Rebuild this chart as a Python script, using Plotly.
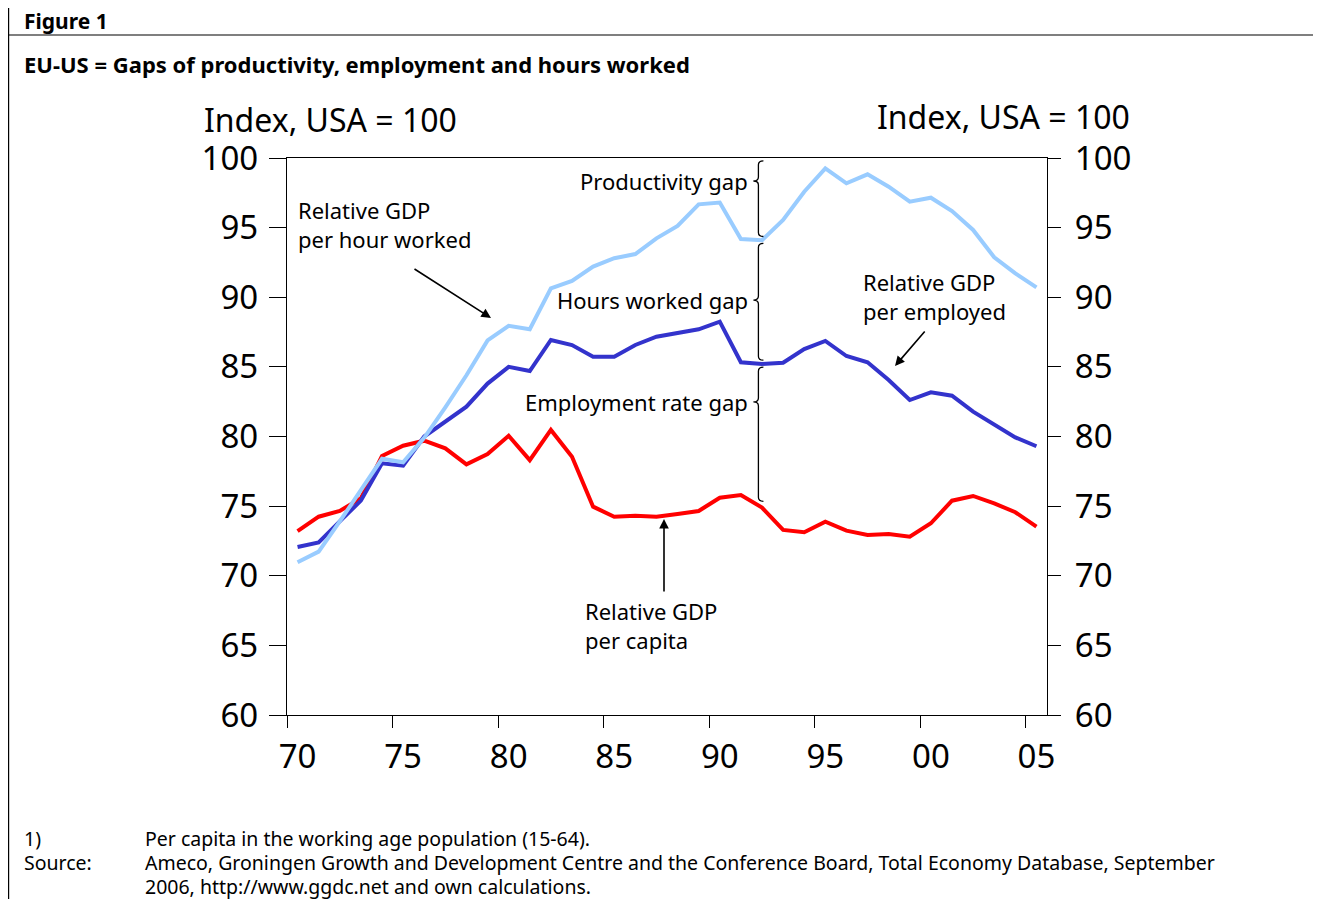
import plotly.graph_objects as go

years = list(range(1970, 2006))
year_labels = ["70", "75", "80", "85", "90", "95", "00", "05"]
label_years = [1970, 1975, 1980, 1985, 1990, 1995, 2000, 2005]

gdp_per_hour = [70.97, 71.73, 73.9, 76.1, 78.4, 78.15, 79.9, 82.1, 84.4, 86.9,
                87.95, 87.7, 90.64, 91.17, 92.2, 92.8, 93.1, 94.23, 95.12, 96.67,
                96.8, 94.18, 94.1, 95.55, 97.58, 99.26, 98.18, 98.83, 97.94, 96.86,
                97.15, 96.19, 94.83, 92.87, 91.72, 90.71]
gdp_per_employed = [72.07, 72.4, 73.9, 75.4, 78.07, 77.9, 80.0, 81.1, 82.14, 83.8,
                    85.0, 84.7, 86.93, 86.57, 85.73, 85.73, 86.57, 87.17, 87.46, 87.7,
                    88.25, 85.33, 85.21, 85.3, 86.28, 86.86, 85.78, 85.33, 84.06, 82.62,
                    83.17, 82.93, 81.78, 80.9, 79.94, 79.3]
gdp_per_capita = [73.2, 74.24, 74.65, 75.56, 78.6, 79.34, 79.7, 79.15, 78.0, 78.74,
                  80.05, 78.3, 80.47, 78.55, 74.96, 74.24, 74.31, 74.24, 74.43, 74.65,
                  75.6, 75.8, 74.89, 73.29, 73.12, 73.88, 73.24, 72.93, 73.0, 72.8,
                  73.77, 75.39, 75.73, 75.2, 74.56, 73.53]

y_ticks = [60, 65, 70, 75, 80, 85, 90, 95, 100]

# page geometry (the page body has an 8px margin)
OFF = 8
W, H = 1321, 899
L, R, T, B = 287, 1047, 158, 715
FONT = "Noto Sans"

def px(x):
    return (x - L) / (R - L)

def py(y):
    return (B - y) / (B - T)

fig = go.Figure()
fig.add_trace(go.Scatter(x=years, y=gdp_per_capita, mode="lines",
                         line=dict(color="#FF0000", width=4), hoverinfo="skip"))
fig.add_trace(go.Scatter(x=years, y=gdp_per_employed, mode="lines",
                         line=dict(color="#3333CC", width=4), hoverinfo="skip"))
fig.add_trace(go.Scatter(x=years, y=gdp_per_hour, mode="lines",
                         line=dict(color="#99CCFF", width=4), hoverinfo="skip"))
# helper trace to carry the secondary axes
fig.add_trace(go.Scatter(x=[None], y=[None], xaxis="x2", yaxis="y2", mode="lines",
                         hoverinfo="skip"))

xr = [1969.5, 2005.5]
yr = [60, 100]

fig.update_layout(
    width=W - OFF, height=H - OFF,
    margin=dict(l=L - OFF, r=W - R, t=T - OFF, b=H - B, pad=0),
    paper_bgcolor="white", plot_bgcolor="white",
    showlegend=False,
    font=dict(family=FONT, color="black"),
    xaxis=dict(range=xr, tickmode="array", tickvals=[v - 0.5 for v in label_years],
               ticktext=[""] * len(label_years), ticks="outside", ticklen=12,
               tickwidth=1.3, tickcolor="black", showline=True, linecolor="black",
               linewidth=1.3, mirror=True, showgrid=False, zeroline=False),
    xaxis2=dict(range=xr, overlaying="x", anchor="y2", side="bottom", tickmode="array",
                tickvals=label_years, ticktext=year_labels, ticks="outside",
                ticklen=12, tickcolor="rgba(0,0,0,0)", showline=False, showgrid=False,
                zeroline=False, tickfont=dict(size=33, family=FONT, color="black")),
    yaxis=dict(range=yr, tickmode="array", tickvals=y_ticks, ticks="outside",
               ticklen=17, tickwidth=1.3, tickcolor="black", showline=True,
               linecolor="black", linewidth=1.3, showgrid=False, zeroline=False,
               ticklabelstandoff=4,
               tickfont=dict(size=33, family=FONT, color="black")),
    yaxis2=dict(range=yr, overlaying="y", anchor="x2", side="right", tickmode="array",
                tickvals=y_ticks, ticks="outside", ticklen=13, tickwidth=1.3,
                tickcolor="black", showline=True, linecolor="black", linewidth=1.3,
                showgrid=False, zeroline=False, ticklabelstandoff=7,
                tickfont=dict(size=33, family=FONT, color="black")),
)

# frame lines of the figure box
shapes = [
    dict(type="line", xref="paper", yref="paper", x0=px(8.6), x1=px(1321), y0=py(35), y1=py(35),
         line=dict(color="black", width=1.2)),
    dict(type="line", xref="paper", yref="paper", x0=px(8.6), x1=px(8.6), y0=py(0), y1=py(899),
         line=dict(color="black", width=1.2)),
]

# braces showing the gaps near 1992
bx = 1991.83
xu = (R - L) / (xr[1] - xr[0])
yu = (B - T) / (yr[1] - yr[0])
w = 5 / xu
r = 4 / yu

def interp(series, x):
    i = int(x) - 1970
    f = x - int(x)
    return series[i] * (1 - f) + series[i + 1] * f

gap = 0.25
b1 = (100 - 0.2, interp(gdp_per_hour, bx) + gap, 98.35)
b2 = (interp(gdp_per_hour, bx) - gap, interp(gdp_per_employed, bx) + gap, 89.8)
b3 = (interp(gdp_per_employed, bx) - gap, interp(gdp_per_capita, bx) + 0.3, 82.48)

def brace(yt, yb, ym):
    x = bx
    return (f"M {x + w},{yt} Q {x},{yt} {x},{yt - r} L {x},{ym + r} "
            f"Q {x},{ym} {x - w},{ym} Q {x},{ym} {x},{ym - r} "
            f"L {x},{yb + r} Q {x},{yb} {x + w},{yb}")

for yt, yb, ym in (b1, b2, b3):
    shapes.append(dict(type="path", xref="x", yref="y", path=brace(yt, yb, ym),
                       line=dict(color="black", width=1.3)))

fig.update_layout(shapes=shapes)

ann = []

def text(x, y, s, size, xanchor="left", yanchor="middle", bold=False):
    ann.append(dict(xref="paper", yref="paper", x=px(x), y=py(y), text=(f"<b>{s}</b>" if bold else s),
                    showarrow=False, xanchor=xanchor, yanchor=yanchor, align="left",
                    font=dict(size=size, family=FONT, color="black")))

def arrow(x_head, y_head, x_tail, y_tail):
    ann.append(dict(xref="paper", yref="paper", x=px(x_head), y=py(y_head), text="",
                    showarrow=True, ax=x_tail - x_head, ay=y_tail - y_head,
                    axref="pixel", ayref="pixel", arrowhead=2, arrowsize=1.2,
                    arrowwidth=1.6, arrowcolor="black"))

text(22, 21, "Figure 1", 21, bold=True)
text(22, 64, "EU-US = Gaps of productivity, employment and hours worked", 22, bold=True)
text(202, 120, "Index, USA = 100", 32)
text(1132, 117, "Index, USA = 100", 32, xanchor="right")

text(296, 225, "Relative GDP<br>per hour worked", 22)
text(861, 296, "Relative GDP<br>per employed", 22)
text(583, 625, "Relative GDP<br>per capita", 22)
text(750, 181, "Productivity gap", 22, xanchor="right")
text(750, 300, "Hours worked gap", 22, xanchor="right")
text(750, 402, "Employment rate gap", 22, xanchor="right")

arrow(491, 318, 413, 268)
arrow(895, 366, 926, 330)
arrow(664, 519, 664, 593)

text(22, 838, "1)", 19.5)
text(143, 838, "Per capita in the working age population (15-64).", 19.5)
text(22, 862, "Source:", 19.5)
text(143, 862, "Ameco, Groningen Growth and Development Centre and the Conference Board, Total Economy Database, September", 19.5)
text(143, 886, "2006, http://www.ggdc.net and own calculations.", 19.5)

fig.update_layout(annotations=ann)

fig.write_html("out.html")
